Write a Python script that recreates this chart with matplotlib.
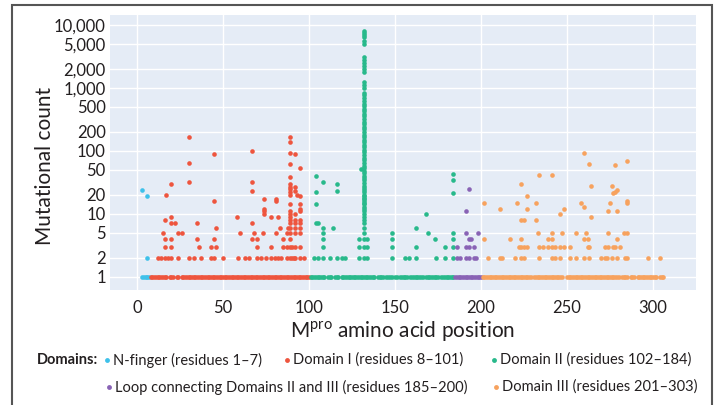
import matplotlib
matplotlib.use('Agg')
import matplotlib.pyplot as plt
from matplotlib.lines import Line2D
from matplotlib.patches import Rectangle
from matplotlib.ticker import FixedLocator, FuncFormatter, NullLocator

# ---------------- data ----------------
domain_names = ["N-finger (residues 1\u20137)", "Domain I (residues 8\u2013101)",
                "Domain II (residues 102\u2013184)",
                "Loop connecting Domains II and III (residues 185\u2013200)",
                "Domain III (residues 201\u2013303)"]
domain_colors = ["#3EC1EA", "#EE553E", "#28B98B", "#8963B5", "#F7A25E"]

# positions with a mutation observed once (count = 1)
nf_ones = [3, 4, 5, 6, 7]
d1_ones = [8, 9, 10, 11, 12, 13, 14, 15, 16, 17, 19, 20, 21, 23, 24, 26, 27, 28, 29, 30,
           31, 32, 33, 34, 35, 36, 37, 38, 39, 40, 41, 42, 43, 44, 45, 46, 47, 48, 49, 50,
           51, 52, 53, 54, 55, 56, 57, 58, 59, 60, 61, 62, 63, 64, 65, 66, 67, 68, 69, 70,
           71, 72, 73, 74, 75, 76, 77, 78, 79, 80, 81, 82, 83, 84, 85, 86, 87, 88, 89, 90,
           91, 92, 93, 94, 95, 96, 97, 98, 99, 100]
d2_ones = [101, 102, 103, 104, 105, 106, 107, 108, 109, 111, 112, 113, 115, 116, 117,
           119, 120, 121, 122, 123, 124, 125, 126, 127, 128, 129, 130, 131, 132, 133, 134,
           135, 136, 137, 138, 140, 141, 142, 143, 145, 146, 147, 148, 150, 151, 153, 154,
           155, 156, 157, 159, 160, 161, 162, 163, 164, 165, 166, 168, 169, 170, 171, 172,
           173, 174, 175, 177, 178, 179, 180, 181, 182, 183, 184]
loop_ones = [185, 186, 187, 188, 189, 190, 191, 192, 193, 194, 195, 196, 197, 198, 199, 200]
d3_ones = [201, 202, 203, 204, 205, 206, 207, 208, 209, 210, 211, 212, 213, 214, 215, 216,
           217, 218, 219, 220, 221, 222, 223, 224, 225, 226, 227, 228, 229, 231, 232, 233,
           234, 235, 236, 237, 238, 239, 240, 241, 242, 243, 244, 245, 246, 247, 250, 251,
           252, 253, 254, 255, 256, 257, 258, 259, 260, 261, 262, 263, 264, 265, 266, 267,
           268, 269, 270, 271, 272, 273, 274, 275, 276, 277, 278, 279, 280, 282, 283, 284,
           285, 287, 288, 289, 291, 292, 293, 294, 295, 296, 297, 298, 299, 300, 301, 302,
           304, 305, 306]

# (position, count) for mutations observed more than once
nf_points = [(6, 2), (3, 24), (6, 19)]
d1_points = [(12, 2), (14, 2), (16, 2), (18, 2), (20, 2), (24, 2), (30, 2), (33, 2), (37, 2),
             (43, 2), (45, 2), (50, 2), (59, 2), (63, 2), (65, 2), (70, 2), (72, 2), (75, 2),
             (78, 2), (80, 2), (82, 2), (84, 2), (87, 2), (89, 2), (90, 2), (91, 2), (92, 2),
             (95, 2), (97, 2),
             (16, 3), (20, 3), (36, 3), (43, 3), (46, 3), (70, 3), (78, 3), (85, 3), (87, 3),
             (89, 3), (90, 3), (92, 3), (95, 3),
             (16, 4), (20, 4), (35, 4), (45, 4), (67, 4), (70, 4), (85, 4), (89, 4),
             (15, 5), (24, 5), (26, 5), (60, 5), (68, 5), (73, 5), (81, 5), (87, 5), (89, 5),
             (92, 5), (95, 5),
             (46, 6), (83, 6), (88, 6), (89, 6), (92, 6), (95, 6),
             (20, 7), (22, 7), (35, 7), (67, 7), (89, 7), (92, 7), (95, 7),
             (16, 8), (89, 8), (92, 8), (95, 8),
             (20, 9), (58, 9), (78, 9), (82, 9), (89, 9),
             (74, 10), (89, 10), (92, 10), (74, 11), (89, 11), (95, 11), (74, 12), (95, 12),
             (89, 14), (95, 14), (45, 16), (81, 16), (74, 17), (81, 17), (95, 19),
             (17, 20), (89, 20), (93, 20), (89, 22), (67, 23), (92, 23), (89, 25),
             (89, 27), (92, 27), (20, 30), (89, 30), (30, 32), (67, 32), (89, 38),
             (95, 54), (89, 61), (30, 64), (45, 88), (92, 88), (89, 93), (67, 99),
             (89, 136), (30, 165), (89, 165)]
d2_points = [(103, 2), (105, 2), (108, 2), (112, 2), (116, 2), (119, 2), (121, 2), (129, 2),
             (132, 2), (134, 2), (148, 2), (156, 2), (158, 2), (162, 2), (174, 2), (179, 2),
             (184, 2),
             (108, 3), (129, 3), (132, 3), (134, 3), (148, 3), (162, 3), (179, 3), (184, 3),
             (108, 4), (129, 4), (132, 4), (134, 4), (148, 4), (173, 4), (184, 4),
             (108, 5), (132, 5), (148, 5), (169, 5), (184, 5),
             (108, 6), (114, 6), (162, 6), (104, 7), (105, 7), (168, 10), (104, 14),
             (184, 21), (104, 22), (116, 23), (116, 30), (108, 32), (184, 34), (104, 39),
             (184, 43), (130, 52)]
# residue 132: a continuous run of mutational counts up to several thousand
p132_counts = [7900, 7400, 6900, 6300, 5600, 4900, 3100, 2800, 2500, 2200, 2000, 1800,
               1250, 1100, 1000, 830, 760, 690, 620, 560, 510, 465, 425, 385, 350, 318,
               290, 265, 240, 218, 198, 180, 164, 150, 136, 124, 113, 103, 94, 85, 77, 70,
               64, 58, 53, 48, 44, 40, 37, 34, 31, 28, 26, 24, 22, 20, 19, 18, 17, 16, 15,
               14, 13, 12, 11, 10, 9, 8, 7, 6]
loop_points = [(186, 2), (188, 2), (191, 2), (193, 2), (196, 2), (197, 2),
               (186, 3), (191, 3), (193, 3), (196, 3), (193, 4), (194, 4),
               (191, 5), (198, 5), (191, 11), (193, 25)]
d3_points = [(204, 2), (211, 2), (212, 2), (220, 2), (223, 2), (225, 2), (234, 2), (241, 2),
             (243, 2), (246, 2), (252, 2), (255, 2), (260, 2), (263, 2), (270, 2), (272, 2),
             (273, 2), (276, 2), (279, 2), (284, 2), (285, 2), (297, 2), (304, 2),
             (222, 3), (223, 3), (225, 3), (227, 3), (234, 3), (236, 3), (239, 3), (241, 3),
             (243, 3), (246, 3), (248, 3), (252, 3), (262, 3), (263, 3), (272, 3), (274, 3),
             (277, 3), (278, 3), (281, 3),
             (202, 4), (217, 4), (223, 4), (239, 4), (241, 4), (260, 4), (262, 4), (279, 4),
             (233, 5), (241, 5), (247, 5), (255, 5), (261, 5), (274, 5), (283, 5), (285, 5),
             (223, 8), (225, 8), (232, 8), (264, 9), (246, 10), (274, 11), (279, 11),
             (211, 12), (227, 12), (248, 12), (260, 13),
             (202, 15), (221, 15), (232, 15), (258, 15), (275, 15), (285, 15), (285, 16),
             (227, 19), (277, 21), (278, 22), (279, 24), (264, 28), (276, 28), (223, 30),
             (234, 41), (241, 41), (278, 59), (263, 61), (285, 68), (260, 91)]

y_ticks = [1, 2, 5, 10, 20, 50, 100, 200, 500, 1000, 2000, 5000, 10000]
x_ticks = [0, 50, 100, 150, 200, 250, 300]

# ---------------- figure ----------------
plt.rcParams['font.family'] = ['Lato', 'DejaVu Sans']
plt.rcParams['mathtext.fontset'] = 'custom'
plt.rcParams['mathtext.rm'] = 'Lato'
plt.rcParams['mathtext.it'] = 'Lato:italic'
plt.rcParams['mathtext.bf'] = 'Lato:bold'

TXT = '#231F20'
W, H = 719, 405
fig = plt.figure(figsize=(W / 100, H / 100), dpi=100)
ax = fig.add_axes([110 / W, 1 - 290 / H, (696 - 110) / W, (290 - 15) / H])
ax.set_facecolor('#E5ECF6')

def series(ones, points, extra=None):
    xs = list(ones) + [p for p, c in points]
    ys = [1] * len(ones) + [c for p, c in points]
    if extra is not None:
        xs += [extra[0]] * len(extra[1])
        ys += list(extra[1])
    return xs, ys

all_series = [series(nf_ones, nf_points),
              series(d1_ones, d1_points),
              series(d2_ones, d2_points, (132, p132_counts)),
              series(loop_ones, loop_points),
              series(d3_ones, d3_points)]

for (xs, ys), col in zip(all_series, domain_colors):
    ax.scatter(xs, ys, s=11, c=col, linewidths=0, zorder=3)

ax.set_yscale('log')
ax.set_ylim(0.615, 14250)
ax.set_xlim(-15.7, 325)
ax.yaxis.set_major_locator(FixedLocator(y_ticks))
ax.yaxis.set_minor_locator(NullLocator())
ax.yaxis.set_major_formatter(FuncFormatter(lambda v, p: f'{int(round(v)):,}'))
ax.xaxis.set_major_locator(FixedLocator(x_ticks))
ax.grid(True, color='white', linewidth=1.0)
ax.set_axisbelow(True)
for s in ax.spines.values():
    s.set_visible(False)
ax.tick_params(axis='both', length=0, labelsize=12, colors=TXT)
ax.tick_params(axis='y', pad=3)
ax.tick_params(axis='x', pad=7)

fig.text(45 / W, 1 - 166 / H, 'Mutational count', rotation=90, ha='center',
         va='center', fontsize=15, color=TXT)
fig.text(403 / W, 1 - 331 / H, r'M$^{\mathrm{pro}}$ amino acid position', ha='center',
         va='center', fontsize=15, color=TXT)

# legend
leg_font = ['Liberation Sans Narrow', 'Lato', 'DejaVu Sans']
row1 = 1 - 360 / H
row2 = 1 - 387 / H
fig.text(37 / W, row1, 'Domains:', ha='left', va='center', fontsize=10.5,
         fontweight='bold', color=TXT, family=leg_font)
leg_xy = [(107, row1), (287, row1), (494, row1), (109, row2), (496, row2)]
for (lx, ly), name, col in zip(leg_xy, domain_names, domain_colors):
    fig.add_artist(Line2D([lx / W], [ly], marker='o', markersize=3.5, color=col,
                          markeredgewidth=0, transform=fig.transFigure))
    fig.text((lx + 6) / W, ly, name, ha='left', va='center', fontsize=10.5,
             color=TXT, family=leg_font)

# outer frame (bottom edge lies outside the image)
fig.add_artist(Rectangle((12 / W, -0.1), (712 - 12) / W, (1 - 5 / H) + 0.1,
                         transform=fig.transFigure, fill=False, edgecolor='#555555',
                         linewidth=1.5))

fig.savefig('out.png', dpi=100)
